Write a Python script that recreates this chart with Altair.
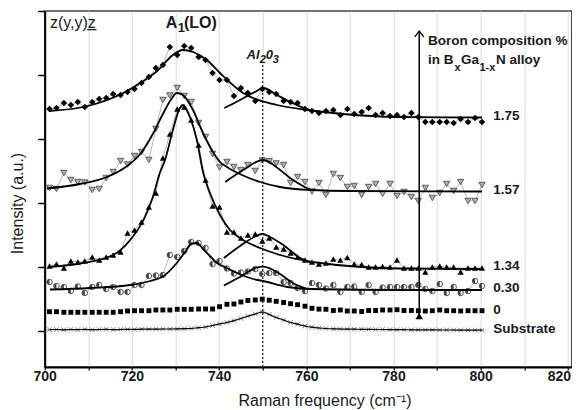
import altair as alt
import pandas as pd

FONT = "Liberation Sans"

# Raman shift grid (cm^-1) shared by all measured spectra
raman_x = [701.1, 702.7, 704.4, 706.0, 707.6, 709.2, 710.9, 712.5, 714.1, 715.7,
           717.4, 719.0, 720.6, 722.2, 723.9, 725.5, 727.1, 728.7, 730.4, 732.0,
           733.6, 735.3, 736.9, 738.5, 740.1, 741.8, 743.4, 745.0, 746.6, 748.3,
           749.9, 751.5, 753.1, 754.8, 756.4, 758.0, 759.7, 761.3, 762.9, 764.5,
           766.2, 767.8, 769.4, 771.0, 772.7, 774.3, 775.9, 777.5, 779.2, 780.8,
           782.4, 784.1, 785.7, 787.3, 788.9, 790.6, 792.2, 793.8, 795.4, 797.1,
           798.7, 800.3]

# measured intensities (a.u., offset stacked)
b175 = [258, 259, 264, 262, 265, 260, 265, 268, 269, 273,
        272, 275, 278, 284, 290, 299, 302, 320, 312, 321,
        319, 310, 307, 294, 287, 287, 271, 279, 274, 266,
        278, 275, 273, 266, 265, 264, 258, 256, 254, 256,
        257, 252, 258, 253, 255, 259, 252, 254, 251, 252,
        250, 254, 250, 245, 245, 245, 245, 244, 248, 245,
        249, 245]
b157 = [179, 178, 194, 187, 185, 184.5, 177, 178, 189, 195,
        206, 202.5, 211, 215, 207, 238, 267, 271.5, 279, 271,
        265, 244, 230, 213, 199.5, 205, 200, 197, 202, 196,
        206.5, 205.7, 203.5, 202, 184, 190, 185, 175.5, 184, 172,
        193, 189, 180, 181, 172, 180, 183, 173, 183, 171,
        175, 170, 166, 179, 169, 174, 183, 176, 185, 166,
        166, 182]
b134 = [101, 103, 99, 106, 105, 106, 110, 107, 110, 112,
        115, 134, 137, 145, 160, 174, 209, 233, 258, 260,
        247, 222, 187, 161, 160, 135, 135, 129, 132, 133,
        126, 129, 120, 118, 114, 110, 107, 105, 103, 104,
        108, 107, 109.5, 103, 102.5, 100, 100, 100.5, 100, 107,
        99, 99, 99, 95, 100, 101, 100, 100, 95, 99,
        99, 99]
b030 = [85, 81, 80, 76, 80.5, 74, 80, 82, 78, 80,
        75, 75, 82, 82, 91, 91.5, 92, 112, 110, 116,
        125, 124, 119, 103, 106, 98.5, 93.5, 94.5, 95.5, 98,
        93, 94, 94, 85, 84, 79, 76, 84, 82, 78.5,
        82, 75, 80, 80.5, 75, 82, 75, 79.5, 80, 80,
        80, 80, 82, 78, 76, 83, 74, 80, 74, 76,
        86, 81]
b000 = [55.3, 55.3, 54.7, 54.7, 54.7, 54.7, 54.7, 54.7, 54.7, 54.7,
        55.3, 56, 56.3, 56.3, 56.3, 57, 57, 57, 57.7, 57.7,
        57.7, 58, 58, 58, 60.3, 62.7, 63, 65, 66.5, 67,
        67.8, 66.8, 65.7, 64.5, 63.3, 62.3, 60.8, 58.7, 57.9, 57.7,
        56.5, 57, 56, 56, 55.5, 56.5, 56.5, 57, 57, 57.3,
        56.5, 56.5, 56.3, 56, 56.3, 57, 56.3, 56.3, 56, 56.3,
        56.3, 56.3]
bsub = [37.3, 37.5, 37.2, 37.5, 37.4, 37.6, 37.3, 37.5, 37.6, 37.4,
        37.5, 37.6, 37.6, 37.8, 37.8, 37.9, 38.0, 38.0, 38.1, 38.3,
        38.5, 39.3, 40.0, 41.5, 43.0, 44.5, 46.3, 48.5, 50.8, 53.0,
        55.0, 52.5, 49.5, 47.0, 44.5, 42.8, 41.0, 39.8, 39.0, 38.5,
        38.2, 38.0, 37.9, 37.8, 37.7, 37.6, 37.5, 37.5, 37.4, 37.3,
        37.3, 37.2, 37.2, 37.1, 37.1, 37.0, 37.0, 37.0, 36.9, 36.9,
        36.9, 36.8]

# fitted curves
fit175_x = [701.0, 709.9, 718.0, 721.9, 725.8, 729.4, 731.7, 734.0, 737.2, 740.2, 745.5, 753.3, 760.2, 768.4, 780.8, 800.3]
fit175_y = [256, 261, 274, 284, 296, 312, 317, 315, 307, 294, 274, 262, 257, 253, 250, 249.5]
fit175al_x = [741.2, 744.8, 748.2, 750.1, 753.3, 756.3, 760.2, 763.1]
fit175al_y = [259, 267, 275, 279, 272, 265, 258, 255]
fit157_x = [700.5, 708.1, 714.3, 718.9, 721.9, 724.8, 727.1, 728.9, 730.3, 731.7, 734.0, 736.3, 738.6, 740.2, 741.8, 745.5, 749.4, 754.0, 760.9, 770.0, 800.3]
fit157_y = [178.5, 183, 190, 201, 213, 233, 253, 267, 274, 272, 257, 234, 215, 205, 200, 191.5, 185, 180, 177, 176, 175.5]
fit157al_x = [741.4, 745.5, 750.1, 754.0, 756.3, 760.9]
fit157al_y = [185, 197, 207, 197, 189, 177]
fit134_x = [700.8, 708.1, 715.7, 719.6, 723.0, 724.8, 726.4, 727.6, 729.4, 731.0, 731.7, 733.3, 734.9, 736.3, 737.9, 740.2, 742.5, 745.5, 749.4, 754.0, 763.2, 781.5, 800.3]
fit134_y = [100, 103.5, 112, 127, 150, 170, 194, 207, 237, 259, 262, 250, 227, 195, 174, 152, 137, 127, 119, 112, 104, 98.5, 98]
fit134al_x = [741.1, 744.8, 748.5, 749.9, 751.7, 754.7, 758.6, 761.3]
fit134al_y = [109, 121, 131, 133, 130, 122, 109, 104]
fit030_x = [701.2, 710.4, 719.6, 724.2, 727.1, 730.3, 732.2, 733.8, 734.9, 736.3, 737.9, 739.5, 741.8, 744.1, 747.8, 750.1, 755.6, 760.9, 781.5, 800.3]
fit030_y = [77.5, 79, 82, 86, 90.5, 104, 115, 123.5, 124, 118, 111, 104, 99, 94, 88, 86, 80, 78, 77, 77]
fit030al_x = [741.1, 744.8, 748.7, 750.1, 754.0, 756.9, 760.2]
fit030al_y = [81.5, 90, 99.5, 100.3, 93, 84, 78]

x_ticks = [700, 710, 720, 730, 740, 750, 760, 770, 780, 790, 800, 810, 820]
y_ticks = [36, 100, 164, 228, 292, 356]

xscale = alt.Scale(domain=[700, 820.87], nice=False, zero=False)
yscale = alt.Scale(domain=[0, 356], nice=False, zero=False)

xaxis = alt.Axis(values=x_ticks, labelExpr="datum.value % 20 === 0 ? datum.label : ''",
                 title="Raman frequency (cm⁻¹)", grid=True, gridColor="#d9d9d9", gridWidth=1,
                 domainColor="black", domainWidth=2, tickColor="black", tickWidth=1.2, tickSize=3,
                 labelFont=FONT, labelFontSize=14, labelFontWeight="bold", labelColor="#1a1a1a",
                 labelPadding=-1, labelFlush=False, labelOverlap=False,
                 labelOffset={"condition": {"test": "datum.value == 820", "value": -9}, "value": 0},
                 titleFont=FONT, titleFontSize=16, titleFontWeight="normal", titleColor="#1a1a1a",
                 titleX=279.8, titleY=38, titleBaseline="alphabetic", titleAlign="center")
yaxis = alt.Axis(values=y_ticks, labels=False, tickSize=7, tickWidth=1.5, tickColor="black",
                 domainColor="black", domainWidth=2, grid=False,
                 title="Intensity (a.u.)", titleFont=FONT, titleFontSize=16, titleFontWeight="normal",
                 titleColor="#1a1a1a", titleX=-27, titleY=192, titleAlign="center",
                 titleBaseline="middle", titleAngle=270)


def X():
    return alt.X("x:Q", scale=xscale, axis=xaxis)


def Y():
    return alt.Y("y:Q", scale=yscale, axis=yaxis)


def pts(ys):
    return pd.DataFrame({"x": raman_x, "y": ys})


layers = []
# thin connecting lines of the measured points
for ys in [b175, b157, b134, b030]:
    layers.append(alt.Chart(pts(ys)).mark_line(color="#9a9a9a", strokeWidth=0.7).encode(x=X(), y=Y()))

# substrate
layers.append(alt.Chart(pts(bsub)).mark_point(shape="M-1,-1L1,1M-1,1L1,-1M-1,0L1,0", filled=False,
                                              stroke="#8c8c8c", strokeWidth=1, size=22, opacity=1)
              .encode(x=X(), y=Y()))
layers.append(alt.Chart(pts(bsub)).mark_line(color="black", strokeWidth=1.2, interpolate="monotone")
              .encode(x=X(), y=Y()))
# 0 %
layers.append(alt.Chart(pts(b000)).mark_point(shape="square", filled=True, color="black", size=24, opacity=1)
              .encode(x=X(), y=Y()))
# 0.30 %
layers.append(alt.Chart(pts(b030)).mark_point(shape="circle", filled=True, fill="white", stroke="#333333",
                                              strokeWidth=0.8, size=30, opacity=1).encode(x=X(), y=Y()))
layers.append(alt.Chart(pts(b030)).mark_point(shape="M0,-1A1,1 0 0 0 0,1Z", filled=True, fill="#444444",
                                              strokeWidth=0, size=30, opacity=1).encode(x=X(), y=Y()))
# 1.34 %
layers.append(alt.Chart(pts(b134)).mark_point(shape="triangle-up", filled=True, color="black", size=38, opacity=1)
              .encode(x=X(), y=Y()))
# 1.57 %
layers.append(alt.Chart(pts(b157)).mark_point(shape="triangle-down", filled=True, fill="#b0b0b0", stroke="#444444",
                                              strokeWidth=0.8, size=40, opacity=1).encode(x=X(), y=Y()))
# 1.75 %
layers.append(alt.Chart(pts(b175)).mark_point(shape="diamond", filled=True, color="black", size=42, opacity=1)
              .encode(x=X(), y=Y()))

# fits
fit_rows = []
for name, fx, fy in [("175", fit175_x, fit175_y), ("175al", fit175al_x, fit175al_y),
                     ("157", fit157_x, fit157_y), ("157al", fit157al_x, fit157al_y),
                     ("134", fit134_x, fit134_y), ("134al", fit134al_x, fit134al_y),
                     ("030", fit030_x, fit030_y), ("030al", fit030al_x, fit030al_y)]:
    for a, b in zip(fx, fy):
        fit_rows.append({"x": a, "y": b, "fit": name})
layers.append(alt.Chart(pd.DataFrame(fit_rows)).mark_line(color="black", strokeWidth=1.8, interpolate="monotone")
              .encode(x=X(), y=Y(), detail="fit:N"))

# Al2O3 dotted reference line
layers.append(alt.Chart(pd.DataFrame({"x": [750], "y": [0], "y2": [304]}))
              .mark_rule(color="black", strokeWidth=1, strokeDash=[2, 2])
              .encode(x=X(), y=Y(), y2=alt.Y2("y2:Q")))
# composition arrow
layers.append(alt.Chart(pd.DataFrame({"x": [785.9], "y": [49], "y2": [335]}))
              .mark_rule(color="black", strokeWidth=1.5)
              .encode(x=X(), y=Y(), y2=alt.Y2("y2:Q")))
layers.append(alt.Chart(pd.DataFrame({"x": [785.9], "y": [333]}))
              .mark_point(shape="M-1,0.66L0,-0.66L1,0.66", filled=False, stroke="black", strokeWidth=1.3,
                          size=81, opacity=1)
              .encode(x=X(), y=Y()))
layers.append(alt.Chart(pd.DataFrame({"x": [785.9], "y": [51]}))
              .mark_point(shape="triangle-up", filled=True, color="black", size=55, opacity=1)
              .encode(x=X(), y=Y()))


def txt(x, y, s, size=13.5, weight="bold", style="normal", baseline="alphabetic", align="left"):
    return (alt.Chart(pd.DataFrame({"x": [x], "y": [y], "t": [s]}))
            .mark_text(font=FONT, fontSize=size, fontWeight=weight, fontStyle=style, baseline=baseline,
                       align=align, color="#1a1a1a")
            .encode(x=X(), y=Y(), text="t:N"))


series_labels = ["1.75", "1.57", "1.34", "0.30", "0", "Substrate"]
series_label_y = [251.5, 176.7, 100.8, 79, 57, 38.5]
for s, yy in zip(series_labels, series_label_y):
    layers.append(txt(802.9, yy, s, baseline="middle"))

layers.append(txt(701.2, 338.7, "z(y,y)z̲", size=16, weight="normal"))
layers.append(txt(727.75, 338.7, "A", size=16))
layers.append(txt(730.5, 335.3, "1", size=13))
layers.append(txt(731.95, 338.7, "(LO)", size=16))
layers.append(txt(746.3, 307.7, "Al", size=13, style="italic"))
layers.append(txt(749.3, 304.3, "2", size=11, style="italic"))
layers.append(txt(750.7, 307.7, "0", size=13, style="italic"))
layers.append(txt(752.3, 304.3, "3", size=11, style="italic"))
layers.append(txt(787.9, 322, "Boron composition %"))
layers.append(txt(787.9, 302.7, "in B"))
layers.append(txt(794.0, 296.5, "x", size=11))
layers.append(txt(795.5, 302.7, "Ga"))
layers.append(txt(799.7, 296.5, "1-x", size=11))
layers.append(txt(803.5, 302.7, "N alloy"))

chart = (alt.layer(*layers)
         .properties(width=527, height=356,
                     padding={"left": 36.7, "top": 3, "right": 0.3, "bottom": 43},
                     autosize=alt.AutoSizeParams(type="none"))
         .configure_view(stroke="#444444", strokeWidth=1.5))

chart.save("out.html", embed_options={"renderer": "svg", "actions": False})
